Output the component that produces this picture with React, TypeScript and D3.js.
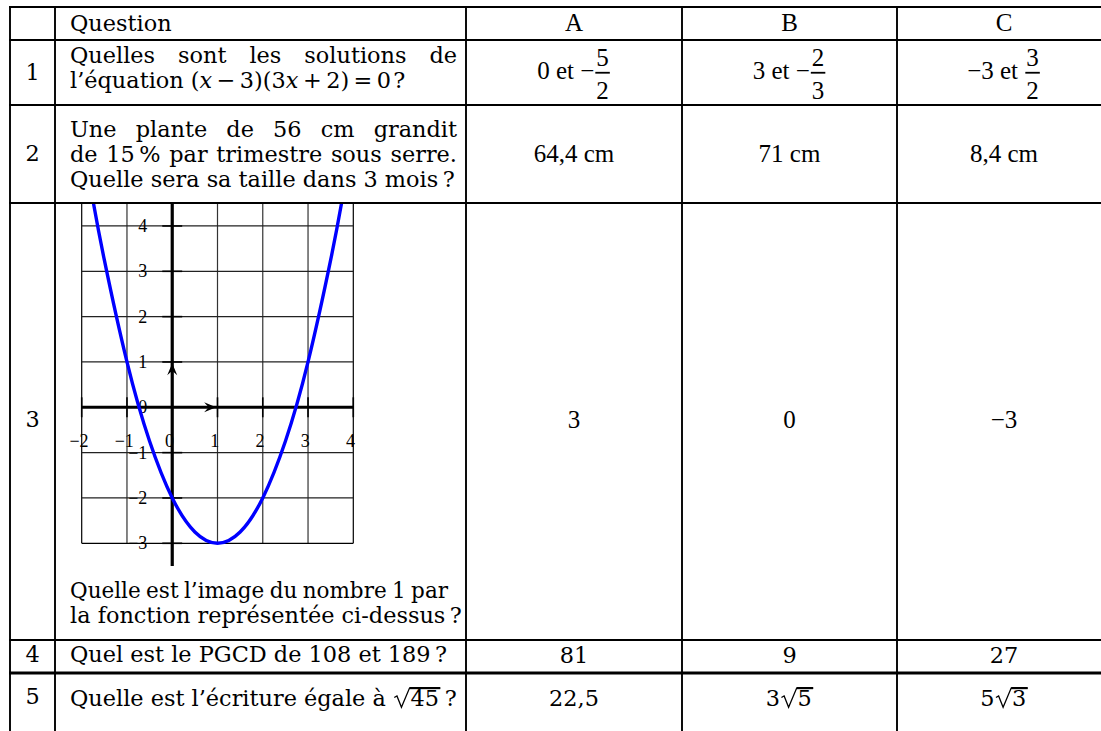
import React from "react";
import * as d3 from "d3";

// ---------------- data ----------------
const headers = ["Question", "A", "B", "C"];
const questionNumbers = ["1", "2", "3", "4", "5"];
const questionLines: string[][] = [
  ["Quelles sont les solutions de", "l’équation (*x*\u2009−\u20093)(3*x*\u2009+\u20092)\u2009=\u20090\u200a?"],
  ["Une plante de 56 cm grandit", "de 15\u2009% par trimestre sous serre.", "Quelle sera sa taille dans 3 mois\u2009?"],
  ["Quelle est l’image du nombre 1 par", "la fonction représentée ci-dessus\u2009?"],
  ["Quel est le PGCD de 108 et 189\u2009?"],
  ["Quelle est l’écriture égale à [√45]\u2009?"],
];
const justifiedLines: boolean[][] = [[true, false], [true, true, false], [true, false], [false], [false]];
const answersA = ["0 et −[5/2]", "64,4 cm", "3", "81", "22,5"];
const answersB = ["3 et −[2/3]", "71 cm", "0", "9", "3[√5]"];
const answersC = ["−3 et [3/2]", "8,4 cm", "−3", "27", "5[√3]"];

const gridXTicks = [-2, -1, 0, 1, 2, 3, 4];
const gridYTicks = [-3, -2, -1, 0, 1, 2, 3, 4];
const curveX = [-1.74, -1.5, -1, -0.5, 0, 0.5, 1, 1.5, 2, 2.5, 3, 3.5, 3.74];
const curveY = [4.5, 3.25, 1, -0.75, -2, -2.75, -3, -2.75, -2, -0.75, 1, 3.25, 4.5];

// ---------------- layout ----------------
const W = 1101, H = 731;
const colX = [10, 55, 466, 682, 897, 1111];
const rowY = [7, 40, 105, 203, 640, 673, 800];
const TXT_FAM = '"DejaVu Serif"';
const CM_FAM = '"Liberation Serif", "Times New Roman", serif';
const CM_SIZE = 25;

let _ctx: CanvasRenderingContext2D | null = null;
function measure(s: string, size: number, fam: string, italic = false) {
  if (!_ctx) _ctx = document.createElement("canvas").getContext("2d");
  _ctx!.font = `${italic ? "italic " : ""}${size}px ${fam}`;
  return _ctx!.measureText(s).width;
}

type Tok = { k: "t"; s: string; it?: boolean } | { k: "f"; n: string; d: string } | { k: "r"; s: string };
function parse(str: string): Tok[] {
  const re = /\[([^\]]+)\]|\*([^*]+)\*/g;
  const out: Tok[] = [];
  let last = 0;
  let m: RegExpExecArray | null;
  while ((m = re.exec(str))) {
    if (m.index > last) out.push({ k: "t", s: str.slice(last, m.index) });
    if (m[2] !== undefined) out.push({ k: "t", s: m[2], it: true });
    else if (m[1].startsWith("√")) out.push({ k: "r", s: m[1].slice(1) });
    else {
      const [n, d] = m[1].split("/");
      out.push({ k: "f", n, d });
    }
    last = re.lastIndex;
  }
  if (last < str.length) out.push({ k: "t", s: str.slice(last) });
  return out;
}
function tokW(t: Tok, size: number, fam: string) {
  if (t.k === "t") return measure(t.s, size, fam, !!t.it);
  if (t.k === "f") return Math.max(measure(t.n, size, fam), measure(t.d, size, fam)) + 0.16 * size;
  return 0.78 * size + measure(t.s, size, fam) + 0.06 * size;
}

function Inline({ str, x, y, size, fam, anchor = "start" }: { str: string; x: number; y: number; size: number; fam: string; anchor?: string }) {
  const toks = parse(str);
  const ws = toks.map((t) => tokW(t, size, fam));
  const total = d3.sum(ws);
  let cx = anchor === "middle" ? x - total / 2 : x;
  const els: React.ReactNode[] = [];
  toks.forEach((t, i) => {
    const w = ws[i];
    if (t.k === "t") {
      els.push(
        <text key={i} x={cx} y={y} fontSize={size} fontFamily={fam} fontStyle={t.it ? "italic" : "normal"} style={{ whiteSpace: "pre" }}>
          {t.s}
        </text>
      );
    } else if (t.k === "f") {
      const bar = y - 0.25 * size;
      const mid = cx + w / 2;
      els.push(
        <g key={i}>
          <text x={mid} y={bar - 0.26 * size} fontSize={size} fontFamily={fam} textAnchor="middle">{t.n}</text>
          <line x1={cx + 0.04 * size} x2={cx + w - 0.04 * size} y1={bar} y2={bar} stroke="#000" strokeWidth={1.8} />
          <text x={mid} y={bar + 1.05 * size} fontSize={size} fontFamily={fam} textAnchor="middle">{t.d}</text>
        </g>
      );
    } else {
      const s = size;
      const top = y - 0.8 * s;
      const rx = cx + 0.78 * s;
      const end = cx + w;
      els.push(
        <g key={i}>
          <path
            d={`M${cx + 0.06 * s},${y - 0.38 * s} L${cx + 0.18 * s},${y - 0.45 * s} L${cx + 0.38 * s},${y + 0.06 * s} L${rx - 0.04 * s},${top} L${end},${top}`}
            fill="none" stroke="#000" strokeWidth={1.3} strokeLinejoin="miter"
          />
          <line x1={rx - 0.04 * s} x2={end} y1={top} y2={top} stroke="#000" strokeWidth={2.2} />
          <text x={rx} y={y} fontSize={s} fontFamily={fam} style={{ whiteSpace: "pre" }}>{t.s}</text>
        </g>
      );
    }
    cx += w;
  });
  return <g>{els}</g>;
}

function Justified({ line, x0, x1, y, size, fam }: { line: string; x0: number; x1: number; y: number; size: number; fam: string }) {
  const words = line.split(" ");
  const nat = words.map((w) => measure(w, size, fam));
  const avail = x1 - x0;
  const minGap = 0.24 * size;
  let k = 1;
  const sumNat = d3.sum(nat);
  if (sumNat + minGap * (words.length - 1) > avail) k = (avail - minGap * (words.length - 1)) / sumNat;
  const ws = nat.map((w) => w * k);
  const gap = (avail - d3.sum(ws)) / (words.length - 1);
  let cx = x0;
  return (
    <g>
      {words.map((w, i) => {
        const el = (
          <text
            key={i} x={cx} y={y} fontSize={size} fontFamily={fam} style={{ whiteSpace: "pre" }}
            {...(k < 1 ? { textLength: ws[i], lengthAdjust: "spacingAndGlyphs" } : {})}
          >
            {w}
          </text>
        );
        cx += ws[i] + gap;
        return el;
      })}
    </g>
  );
}

function Graph() {
  const x = d3.scaleLinear().domain([-2, 4]).range([81.7, 353.3]);
  const y = d3.scaleLinear().domain([-3, 4.5]).range([543.3, 203.3]);
  const pts = curveX.map((v, i) => [v, curveY[i]] as [number, number]);
  const line = d3.line<[number, number]>().x((d) => x(d[0])).y((d) => y(d[1])).curve(d3.curveNatural);
  const lblSize = 18;
  const tk = 0.22;
  const arrow = (tx: number, ty: number, dir: "r" | "u") => {
    const L = 12, Wd = 5, In = 7.5;
    if (dir === "r")
      return `M${tx},${ty} L${tx - L},${ty - Wd} L${tx - In},${ty} L${tx - L},${ty + Wd} Z`;
    return `M${tx},${ty} L${tx - Wd},${ty + L} L${tx},${ty + In} L${tx + Wd},${ty + L} Z`;
  };
  const fmt = (v: number) => (v < 0 ? "−" + Math.abs(v) : String(v));
  return (
    <g>
      <defs>
        <clipPath id="gclip">
          <rect x={x(-2) - 10} y={y(4.5)} width={x(4) - x(-2) + 20} height={y(-3.5) - y(4.5) + 5} />
        </clipPath>
      </defs>
      {gridXTicks.map((v) => (
        <line key={"gx" + v} x1={x(v)} x2={x(v)} y1={y(4.5)} y2={y(-3)} stroke={v === -2 || v === 4 ? "#000" : "#333"} strokeWidth={1.2} />
      ))}
      {gridYTicks.map((v) => (
        <line key={"gy" + v} x1={x(-2)} x2={x(4)} y1={y(v)} y2={y(v)} stroke={v === -3 ? "#000" : "#222"} strokeWidth={1.2} />
      ))}
      {gridXTicks.filter((v) => v !== 0).map((v) => (
        <line key={"tx" + v} x1={x(v)} x2={x(v)} y1={y(tk)} y2={y(-tk)} stroke="#000" strokeWidth={1.6} />
      ))}
      {gridYTicks.filter((v) => v !== 0).map((v) => (
        <line key={"ty" + v} x1={x(-tk)} x2={x(tk)} y1={y(v)} y2={y(v)} stroke="#000" strokeWidth={1.6} />
      ))}
      <line x1={x(-2)} x2={x(4)} y1={y(0)} y2={y(0)} stroke="#000" strokeWidth={3} />
      <line x1={x(0)} x2={x(0)} y1={y(4.5)} y2={y(-3.5)} stroke="#000" strokeWidth={3.2} />
      <path d={arrow(x(0.97), y(0), "r")} fill="#000" />
      <path d={arrow(x(0), y(0.97), "u")} fill="#000" />
      {gridYTicks.map((v) => (
        <text key={"ly" + v} x={x(-0.55)} y={y(v)} dy="0.34em" textAnchor="end" fontSize={lblSize} fontFamily={CM_FAM}>
          {fmt(v)}
        </text>
      ))}
      {gridXTicks.map((v) => (
        <text key={"lx" + v} x={x(v - 0.06)} y={y(-0.73)} dy="0.34em" textAnchor="middle" fontSize={lblSize} fontFamily={CM_FAM}>
          {fmt(v)}
        </text>
      ))}
      <path d={line(pts) || ""} fill="none" stroke="#0000ff" strokeWidth={3.4} clipPath="url(#gclip)" />
    </g>
  );
}

export default function App() {
  const TXT = React.useMemo(() => (20 * 385) / measure("Quelle sera sa taille dans 3 mois\u2009?", 20, TXT_FAM), []);
  const textX0 = 70;
  const qBaselines = [[63, 88], [137, 162, 187], [598, 623], [662], [706]];
  const qRight = [457, 457, 448, 457, 457];
  const numBaselines = [80, 161, 427, 662, 704];
  const ansBaselines = [79, 162, 428, 663, 706];
  const colCenters = [2, 3, 4].map((i) => (colX[i] + colX[i + 1]) / 2);
  const answers = [answersA, answersB, answersC];
  return (
    <svg width={W} height={H} style={{ position: "absolute", left: 0, top: 0, background: "#fff" }}>
      <rect x={0} y={0} width={W} height={H} fill="#fff" />
      {/* header */}
      <text x={textX0} y={31} fontSize={TXT} fontFamily={TXT_FAM}>{headers[0]}</text>
      {headers.slice(1).map((h, i) => (
        <text key={h} x={colCenters[i]} y={31} fontSize={CM_SIZE} fontFamily={CM_FAM} textAnchor="middle">{h}</text>
      ))}
      {/* row numbers */}
      {questionNumbers.map((n, i) => (
        <text key={"n" + n} x={(colX[0] + colX[1]) / 2} y={numBaselines[i]} fontSize={TXT} fontFamily={TXT_FAM} textAnchor="middle">{n}</text>
      ))}
      {/* questions */}
      {questionLines.map((lines, r) =>
        lines.map((l, j) =>
          justifiedLines[r][j] ? (
            <Justified key={r + "-" + j} line={l} x0={textX0} x1={qRight[r]} y={qBaselines[r][j]} size={TXT} fam={TXT_FAM} />
          ) : (
            <Inline key={r + "-" + j} str={l} x={textX0} y={qBaselines[r][j]} size={TXT} fam={TXT_FAM} />
          )
        )
      )}
      {/* answers */}
      {answers.map((col, c) =>
        col.map((a, r) => (
          <Inline key={c + "a" + r} str={a} x={colCenters[c]} y={ansBaselines[r]} size={r >= 3 ? TXT : CM_SIZE} fam={r >= 3 ? TXT_FAM : CM_FAM} anchor="middle" />
        ))
      )}
      <Graph />
      {/* table rules */}
      {rowY.slice(0, 6).map((yy, i) => (
        <line key={"h" + i} x1={colX[0] - 1} x2={W} y1={yy} y2={yy} stroke="#000" strokeWidth={i === 5 ? 3.2 : 1.9} />
      ))}
      {colX.slice(0, 5).map((xx, i) => (
        <line key={"v" + i} x1={xx} x2={xx} y1={rowY[0]} y2={H} stroke="#000" strokeWidth={1.9} />
      ))}
    </svg>
  );
}
